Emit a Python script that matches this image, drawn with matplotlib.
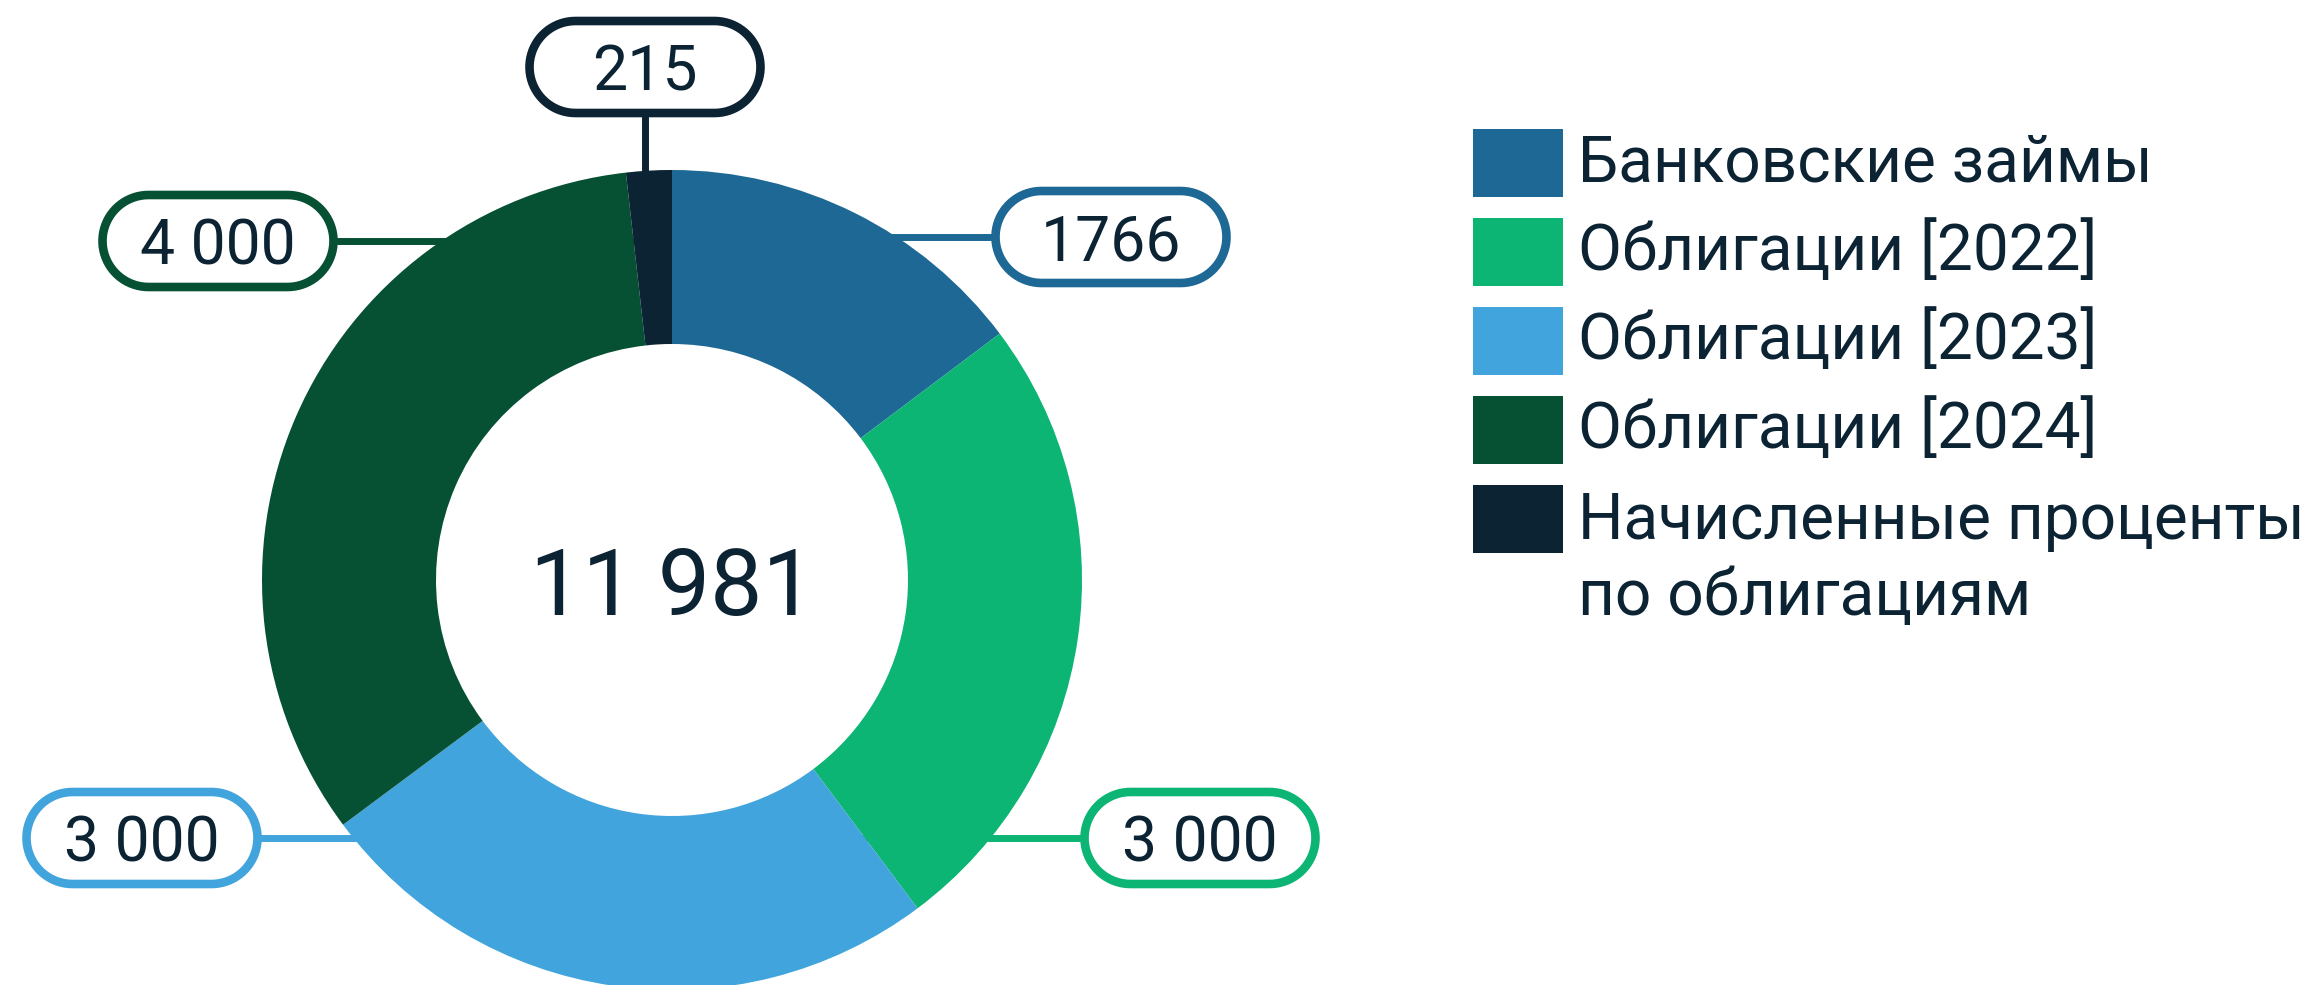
import numpy as np
import matplotlib.pyplot as plt
from matplotlib.patches import Polygon, Rectangle

plt.rcParams['font.family'] = ['Roboto', 'DejaVu Sans']

# data
categories = ["Банковские займы", "Облигации [2022]", "Облигации [2023]",
              "Облигации [2024]", "Начисленные проценты\nпо облигациям"]
values = [1766, 3000, 3000, 4000, 215]
value_labels = ["1766", "3 000", "3 000", "4 000", "215"]
colors = ["#1d6894", "#0cb574", "#42a4dc", "#065034", "#0b2333"]
text_color = "#0b2333"

# layout in pixels of the 2315x985 image
W, H = 2315, 985
CX, CY, R = 672, 580, 410     # donut centre / outer radius
R_IN = 236


def px(x, y):
    return (x - CX) / R, (CY - y) / R


def pill(xc, yc, w, h):
    # stadium shape: straight top/bottom, semicircular ends
    r = h / 2
    t = np.linspace(-np.pi / 2, np.pi / 2, 40)
    right = np.c_[xc + w / 2 - r + r * np.cos(t), yc + r * np.sin(t)]
    left = np.c_[xc - w / 2 + r - r * np.cos(t), yc - r * np.sin(t)]
    return np.vstack([right, left])


fig = plt.figure(figsize=(W / 100, H / 100), dpi=100)
ax = fig.add_axes([0, 0, 1, 1])

ax.pie(values, colors=colors, startangle=90, counterclock=False, radius=1,
       wedgeprops=dict(width=1 - R_IN / R, linewidth=0))

ax.set_xlim(-CX / R, (W - CX) / R)
ax.set_ylim((CY - H) / R, CY / R)
ax.set_aspect('auto')
ax.axis('off')

total = sum(values)
ax.text(0, 0, f"{total:,}".replace(",", " "), fontsize=67, color=text_color,
        ha='center', va='center_baseline')

# value boxes (centre of each box in px, and direction of the leader)
box_pos = [(1111, 237, 'h'), (1200, 838, 'h'), (142, 838, 'h'),
           (218, 241, 'h'), (645, 67, 'v')]
bw, bh = 231 / R, 92 / R
ring_mid = (1 + R_IN / R) / 2
for lab, col, (bx, by, kind) in zip(value_labels, colors, box_pos):
    x, y = px(bx, by)
    if kind == 'h':
        ax.plot([x, 0], [y, y], color=col, lw=5, zorder=0.5,
                solid_capstyle='butt')
    else:
        ax.plot([x, x], [y, ring_mid], color=col, lw=5, zorder=0.5,
                solid_capstyle='butt')
    ax.add_patch(Polygon(pill(x, y, bw, bh), closed=True, facecolor='white',
                         edgecolor=col, lw=6.2, zorder=3))
    ax.text(x, y, lab, fontsize=45, color=text_color, ha='center',
            va='center_baseline', zorder=4)

# legend
sq_w, sq_h = 90 / R, 68 / R
row0, step = 163, 89
for i, (cat, col) in enumerate(zip(categories, colors)):
    cy = row0 + i * step
    x0, y0 = px(1473, cy + 34)
    ax.add_patch(Rectangle((x0, y0), sq_w, sq_h, facecolor=col, lw=0))
    nl = cat.count("\n")
    tx, ty = px(1578, cy + nl * 40)
    ax.text(tx, ty, cat, fontsize=46, color=text_color, ha='left',
            va='center', linespacing=1.3)

fig.savefig("out.png", dpi=100)
